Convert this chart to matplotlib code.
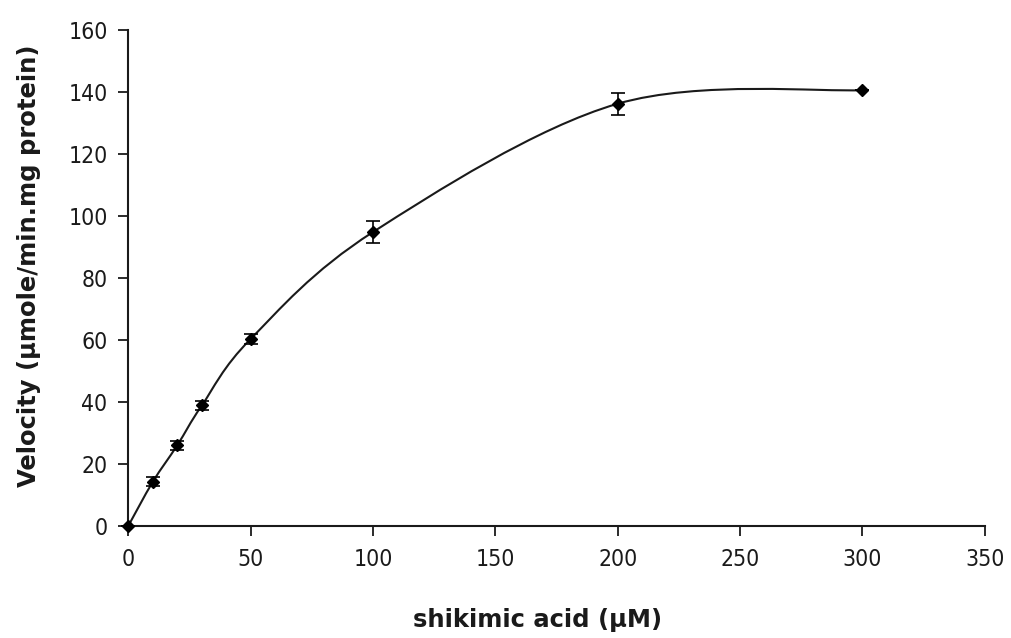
import numpy as np
import matplotlib
matplotlib.use("Agg")
import matplotlib.pyplot as plt
from matplotlib.path import Path
from matplotlib.patches import PathPatch

# data
conc = [0, 10, 20, 30, 50, 100, 200, 300]
velocity = [0, 14.2, 26, 38.8, 60.3, 94.8, 136.2, 140.6]
err = [0, 1.5, 1.5, 1.5, 1.5, 3.5, 3.5, 0]
xticks = [0, 50, 100, 150, 200, 250, 300, 350]
yticks = [0, 20, 40, 60, 80, 100, 120, 140, 160]

fig = plt.figure(figsize=(10.11, 6.38), dpi=100)
ax = fig.add_axes([0.127, 0.176, 0.847, 0.777])

# Excel-like smoothed line (Bezier segments through the data points)
pts = np.column_stack([conc, velocity]).astype(float)
n = len(pts)
verts = [tuple(pts[0])]
codes = [Path.MOVETO]
for i in range(n - 1):
    p0 = pts[i - 1] if i > 0 else pts[i]
    p1 = pts[i]
    p2 = pts[i + 1]
    p3 = pts[i + 2] if i + 2 < n else pts[i + 1]
    c1 = p1 + (p2 - p0) / 6.0
    c2 = p2 - (p3 - p1) / 6.0
    verts += [tuple(c1), tuple(c2), tuple(p2)]
    codes += [Path.CURVE4] * 3
ax.add_patch(PathPatch(Path(verts, codes), facecolor="none", edgecolor="#1a1a1a", lw=1.5, zorder=2))

ax.errorbar(conc, velocity, yerr=err, fmt="D", color="black", ms=6.5,
            ecolor="black", elinewidth=1.2, capsize=5, capthick=1.2, zorder=3, clip_on=False)

ax.set_xlim(0, 350)
ax.set_ylim(0, 160)
ax.set_xticks(xticks)
ax.set_yticks(yticks)
for s in ["top", "right"]:
    ax.spines[s].set_visible(False)
for s in ["left", "bottom"]:
    ax.spines[s].set_linewidth(1.5)
    ax.spines[s].set_color("#1a1a1a")
ax.tick_params(direction="out", length=7, width=1.3, colors="#1a1a1a", pad=8)
for lab in ax.get_xticklabels() + ax.get_yticklabels():
    lab.set_fontfamily(["DejaVu Sans"])
    lab.set_fontstretch("condensed")
    lab.set_fontsize(16.5)
    lab.set_color("#1a1a1a")
ax.tick_params(axis="x", pad=9)

ax.set_xlabel("shikimic acid (\u00b5M)", fontsize=17.5, fontweight="bold",
              family=["DejaVu Sans"], color="#1a1a1a")
ax.set_ylabel("Velocity (\u00b5mole/min.mg protein)", fontsize=17.5, fontweight="bold",
              family=["DejaVu Sans"], color="#1a1a1a")
ax.xaxis.set_label_coords((537 - 128) / 857, -(608 - 526) / 496)
ax.yaxis.set_label_coords((41 - 128) / 857, (526 - 266) / 496)

fig.savefig("out.png", dpi=100)
